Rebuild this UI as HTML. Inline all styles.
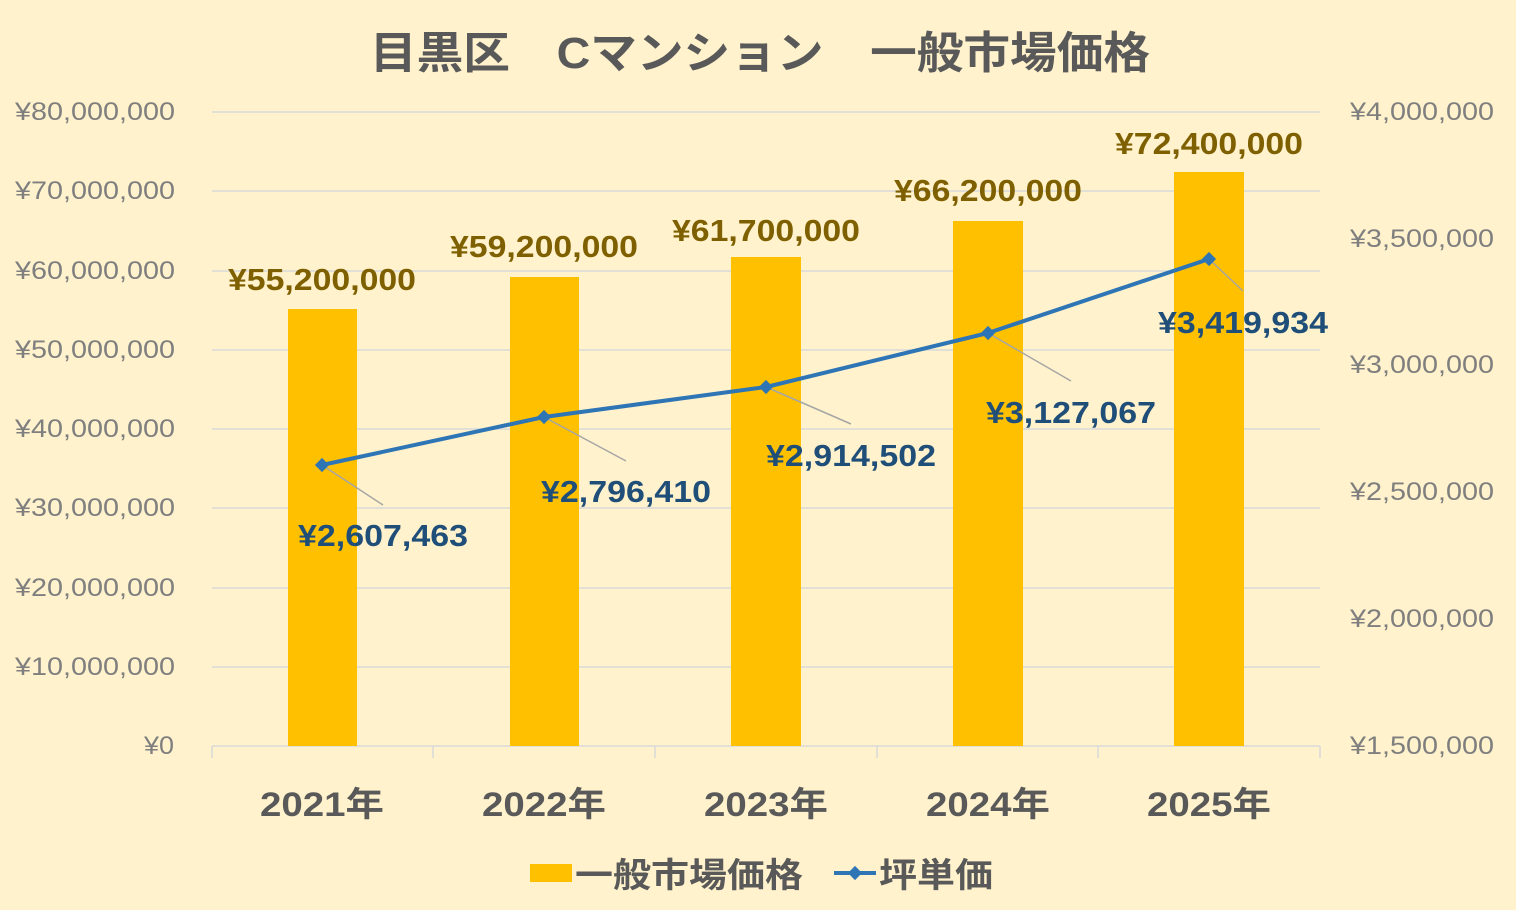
<!DOCTYPE html>
<html><head><meta charset="utf-8"><style>
html,body{margin:0;padding:0;background:#FFF2CC;}
svg{display:block;font-family:"Liberation Sans","Noto Sans CJK JP",sans-serif;}
</style></head><body>
<svg width="1516" height="910" viewBox="0 0 1516 910">
<rect width="1516" height="910" fill="#FFF2CC"/>
<text x="370" y="68" textLength="780" lengthAdjust="spacingAndGlyphs" font-size="44" font-weight="bold" fill="#595959">目黒区　Cマンション　一般市場価格</text>
<g stroke="#D9D9D9" stroke-width="1.5">
<line x1="212" x2="1320" y1="112" y2="112"/><line x1="212" x2="1320" y1="191" y2="191"/>
<line x1="212" x2="1320" y1="271" y2="271"/><line x1="212" x2="1320" y1="350" y2="350"/>
<line x1="212" x2="1320" y1="429" y2="429"/><line x1="212" x2="1320" y1="508" y2="508"/>
<line x1="212" x2="1320" y1="588" y2="588"/><line x1="212" x2="1320" y1="667" y2="667"/>
<line x1="212" x2="1320" y1="746" y2="746"/>
<line x1="212" x2="212" y1="746" y2="758"/><line x1="433" x2="433" y1="746" y2="758"/>
<line x1="655" x2="655" y1="746" y2="758"/><line x1="877" x2="877" y1="746" y2="758"/>
<line x1="1098" x2="1098" y1="746" y2="758"/><line x1="1320" x2="1320" y1="746" y2="758"/>
</g>
<g font-size="25" fill="#7F7F7F">
<text x="15" y="120" textLength="160" lengthAdjust="spacingAndGlyphs">¥80,000,000</text>
<text x="15" y="199" textLength="160" lengthAdjust="spacingAndGlyphs">¥70,000,000</text>
<text x="15" y="279" textLength="160" lengthAdjust="spacingAndGlyphs">¥60,000,000</text>
<text x="15" y="358" textLength="160" lengthAdjust="spacingAndGlyphs">¥50,000,000</text>
<text x="15" y="437" textLength="160" lengthAdjust="spacingAndGlyphs">¥40,000,000</text>
<text x="15" y="516" textLength="160" lengthAdjust="spacingAndGlyphs">¥30,000,000</text>
<text x="15" y="596" textLength="160" lengthAdjust="spacingAndGlyphs">¥20,000,000</text>
<text x="15" y="675" textLength="160" lengthAdjust="spacingAndGlyphs">¥10,000,000</text>
<text x="144" y="754" textLength="30" lengthAdjust="spacingAndGlyphs">¥0</text>
</g>
<g font-size="25" fill="#7F7F7F">
<text x="1350" y="120" textLength="144" lengthAdjust="spacingAndGlyphs">¥4,000,000</text>
<text x="1350" y="247" textLength="144" lengthAdjust="spacingAndGlyphs">¥3,500,000</text>
<text x="1350" y="373" textLength="144" lengthAdjust="spacingAndGlyphs">¥3,000,000</text>
<text x="1350" y="500" textLength="144" lengthAdjust="spacingAndGlyphs">¥2,500,000</text>
<text x="1350" y="627" textLength="144" lengthAdjust="spacingAndGlyphs">¥2,000,000</text>
<text x="1350" y="754" textLength="144" lengthAdjust="spacingAndGlyphs">¥1,500,000</text>
</g>
<g fill="#FFC000">
<rect x="288" y="309" width="69" height="437"/>
<rect x="510" y="277" width="69" height="469"/>
<rect x="731" y="257" width="70" height="489"/>
<rect x="953" y="221" width="70" height="525"/>
<rect x="1174" y="172" width="70" height="574"/>
</g>
<g font-size="31" font-weight="bold" fill="#7F6000">
<text x="228" y="290" textLength="188" lengthAdjust="spacingAndGlyphs">¥55,200,000</text>
<text x="450" y="257" textLength="188" lengthAdjust="spacingAndGlyphs">¥59,200,000</text>
<text x="672" y="241" textLength="188" lengthAdjust="spacingAndGlyphs">¥61,700,000</text>
<text x="894" y="201" textLength="188" lengthAdjust="spacingAndGlyphs">¥66,200,000</text>
<text x="1115" y="154" textLength="188" lengthAdjust="spacingAndGlyphs">¥72,400,000</text>
</g>
<g stroke="#A6A6A6" stroke-width="1.5" fill="none">
<line x1="322" y1="465" x2="383" y2="505"/>
<line x1="544" y1="417" x2="626" y2="461"/>
<line x1="766" y1="387" x2="851" y2="424"/>
<line x1="988" y1="333" x2="1071" y2="381"/>
<line x1="1209" y1="259" x2="1243" y2="291"/>
</g>
<polyline points="322,465 544,417 766,387 988,333 1209,259" fill="none" stroke="#2E75B6" stroke-width="4" stroke-linejoin="round"/>
<g fill="#2E75B6">
<rect x="317" y="460" width="10" height="10" transform="rotate(45 322 465)"/>
<rect x="539" y="412" width="10" height="10" transform="rotate(45 544 417)"/>
<rect x="761" y="382" width="10" height="10" transform="rotate(45 766 387)"/>
<rect x="983" y="328" width="10" height="10" transform="rotate(45 988 333)"/>
<rect x="1204" y="254" width="10" height="10" transform="rotate(45 1209 259)"/>
</g>
<g font-size="31" font-weight="bold" fill="#1F4E79">
<text x="298" y="546" textLength="170" lengthAdjust="spacingAndGlyphs">¥2,607,463</text>
<text x="541" y="502" textLength="170" lengthAdjust="spacingAndGlyphs">¥2,796,410</text>
<text x="766" y="466" textLength="170" lengthAdjust="spacingAndGlyphs">¥2,914,502</text>
<text x="986" y="423" textLength="170" lengthAdjust="spacingAndGlyphs">¥3,127,067</text>
<text x="1158" y="333" textLength="170" lengthAdjust="spacingAndGlyphs">¥3,419,934</text>
</g>
<g font-size="34" font-weight="bold" fill="#595959">
<text x="260" y="816" textLength="124" lengthAdjust="spacingAndGlyphs">2021年</text>
<text x="482" y="816" textLength="124" lengthAdjust="spacingAndGlyphs">2022年</text>
<text x="704" y="816" textLength="124" lengthAdjust="spacingAndGlyphs">2023年</text>
<text x="926" y="816" textLength="124" lengthAdjust="spacingAndGlyphs">2024年</text>
<text x="1147" y="816" textLength="124" lengthAdjust="spacingAndGlyphs">2025年</text>
</g>
<rect x="530" y="864" width="42" height="18" fill="#FFC000"/>
<text x="575" y="887" textLength="228" lengthAdjust="spacingAndGlyphs" font-size="34" font-weight="bold" fill="#595959">一般市場価格</text>
<line x1="834" y1="873" x2="876" y2="873" stroke="#2E75B6" stroke-width="4"/>
<rect x="850" y="868" width="10" height="10" fill="#2E75B6" transform="rotate(45 855 873)"/>
<text x="879" y="887" textLength="114" lengthAdjust="spacingAndGlyphs" font-size="34" font-weight="bold" fill="#595959">坪単価</text>
</svg>
</body></html>
